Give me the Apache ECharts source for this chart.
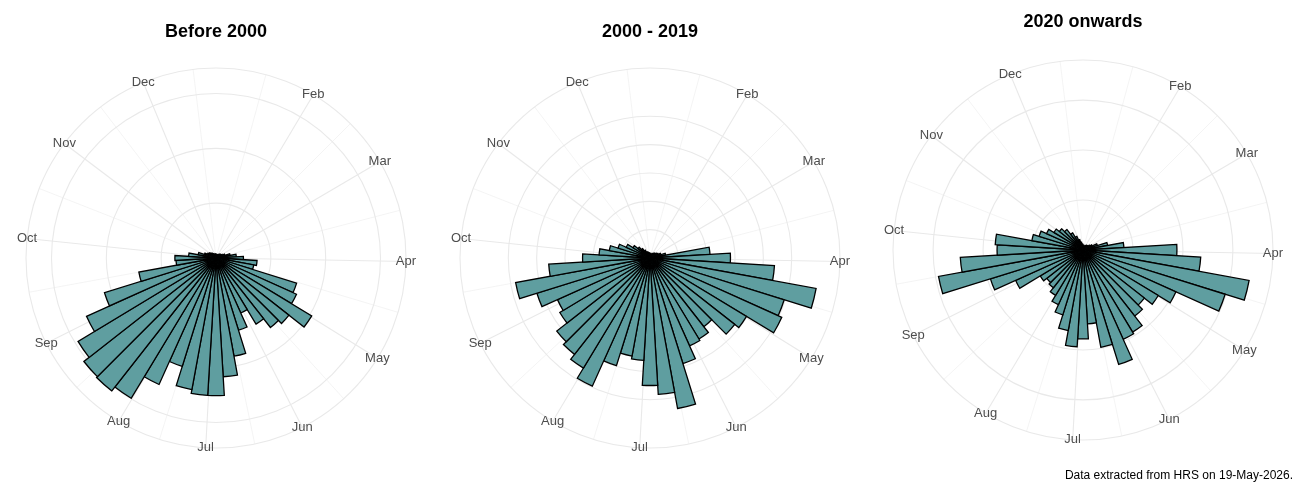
<!DOCTYPE html>
<html>
<head>
<meta charset="utf-8">
<script src="https://cdn.jsdelivr.net/npm/echarts@6/dist/echarts.min.js"></script>
<style>
  html, body { margin: 0; padding: 0; background: #fff; }
  #chart { width: 1300px; height: 500px; }
</style>
</head>
<body>
<div id="chart"></div>
<script>
// week of year, one bar each
var weeks = [1, 2, 3, 4, 5, 6, 7, 8, 9, 10, 11, 12, 13, 14, 15, 16, 17, 18, 19, 20, 21, 22, 23, 24, 25, 26,
  27, 28, 29, 30, 31, 32, 33, 34, 35, 36, 37, 38, 39, 40, 41, 42, 43, 44, 45, 46, 47, 48, 49, 50, 51, 52];

// month breaks on the week scale (Jan has no label in the source)
var months = ["Feb", "Mar", "Apr", "May", "Jun", "Jul", "Aug", "Sep", "Oct", "Nov", "Dec"];
var monthPos = [5.45, 9.6, 14.15, 18.6, 23.1, 27.45, 31.45, 36.15, 40.85, 45.35, 49.75];
var minorPos = [3.2, 7.5, 11.9, 16.4, 20.9, 25.3, 29.5, 33.8, 38.5, 43.1, 47.6, 52.0];

var before2000 = [0.7, 0.6, 0.6, 0.6, 0.7, 0.7, 0.9, 0.9, 1.1, 1.3, 1.7, 2.6,
  3.7, 5.0, 7.5, 7.0, 15.4, 16.1, 20.4, 16.9, 16.1, 14.1, 11.0, 13.8,
  18.2, 21.7, 25.1, 25.1, 24.4, 20.7, 25.3, 29.9, 30.8, 30.6, 29.4, 25.9,
  21.3, 14.3, 7.3, 7.5, 5.0, 3.3, 2.2, 1.7, 1.5, 1.3, 1.1, 0.9,
  0.9, 0.7, 0.7, 0.7];
var from2000 = [0.8, 0.7, 0.7, 0.7, 0.9, 0.9, 1.1, 1.2, 1.4, 1.6, 2.0, 2.8,
  10.6, 14.2, 22.0, 29.8, 24.8, 25.5, 19.9, 19.0, 15.4, 16.7, 17.0, 19.5,
  27.0, 24.1, 22.5, 18.1, 17.6, 19.9, 24.8, 22.7, 21.6, 20.9, 18.6, 17.9,
  20.9, 24.1, 17.9, 11.9, 9.0, 7.3, 5.9, 4.6, 3.5, 2.7, 2.1, 1.6,
  1.2, 1.1, 0.9, 0.9];
var from2020 = [0.5, 0.4, 0.4, 0.4, 0.5, 0.5, 0.6, 0.6, 0.8, 1.0, 1.5, 2.5,
  4.1, 9.4, 11.8, 16.9, 14.9, 10.2, 8.8, 7.8, 8.4, 9.6, 9.8, 12.0,
  9.9, 7.4, 8.9, 9.7, 8.2, 6.8, 6.0, 5.3, 4.8, 4.6, 5.0, 7.4,
  9.7, 14.7, 12.3, 8.6, 8.8, 5.2, 4.6, 4.0, 3.4, 3.0, 2.6, 2.0,
  1.5, 1.1, 0.8, 0.6];

// radial grid breaks
var rings1 = [10, 20, 30];
var rings2 = [5, 10, 15, 20, 25];
var rings3 = [5, 10, 15];

var titles = ["Before 2000", "2000 - 2019", "2020 onwards"];
var caption = "Data extracted from HRS on 19-May-2026.";

var FONT = '"Liberation Sans", Arial, sans-serif';
var FILL = "#5F9EA0";
var GRID = "#E9E9E9";
var GRID_MINOR = "#F3F3F3";

var panels = [
  { values: before2000, rings: rings1, center: [216, 258], titleY: 32 },
  { values: from2000, rings: rings2, center: [650, 258], titleY: 32 },
  { values: from2020, rings: rings3, center: [1083, 250], titleY: 22 }
];

function dir(api, cs, w) {
  var p = api.coord([1, w]);
  var dx = p[0] - cs.cx, dy = p[1] - cs.cy;
  var len = Math.sqrt(dx * dx + dy * dy);
  return [dx / len, dy / len];
}

function ringItem(params, api) {
  var cs = params.coordSys;
  var p = api.coord([api.value(1), 1]);
  var r = Math.sqrt(Math.pow(p[0] - cs.cx, 2) + Math.pow(p[1] - cs.cy, 2));
  return {
    type: "circle",
    shape: { cx: cs.cx, cy: cs.cy, r: r },
    style: { fill: "none", stroke: GRID, lineWidth: 1.1 }
  };
}

function spokeItem(params, api) {
  var cs = params.coordSys;
  var d = dir(api, cs, api.value(0));
  var major = api.value(2) === 1;
  return {
    type: "line",
    shape: { x1: cs.cx, y1: cs.cy, x2: cs.cx + d[0] * cs.r, y2: cs.cy + d[1] * cs.r },
    style: { stroke: major ? GRID : GRID_MINOR, lineWidth: major ? 1.1 : 0.9 }
  };
}

function barItem(params, api) {
  var cs = params.coordSys;
  var w = api.value(0);
  var p0 = api.coord([1, w - 0.5]);
  var p1 = api.coord([1, w + 0.5]);
  var a0 = Math.atan2(p0[1] - cs.cy, p0[0] - cs.cx);
  var a1 = Math.atan2(p1[1] - cs.cy, p1[0] - cs.cx);
  if (a1 < a0) a1 += Math.PI * 2;
  var pe = api.coord([api.value(1), w]);
  var r = Math.sqrt(Math.pow(pe[0] - cs.cx, 2) + Math.pow(pe[1] - cs.cy, 2));
  return {
    type: "sector",
    shape: { cx: cs.cx, cy: cs.cy, r0: 0, r: r, startAngle: a0, endAngle: a1, clockwise: true },
    style: { fill: FILL, stroke: "#000", lineWidth: 1.3 }
  };
}

function labelItem(params, api) {
  var cs = params.coordSys;
  var d = dir(api, cs, api.value(0));
  return {
    type: "text",
    x: cs.cx + d[0] * cs.r,
    y: cs.cy + d[1] * cs.r,
    style: {
      text: months[params.dataIndex],
      fill: "#4D4D4D",
      font: "13px " + FONT,
      align: "center",
      verticalAlign: "middle"
    }
  };
}

var option = {
  backgroundColor: "#fff",
  animation: false,
  textStyle: { fontFamily: FONT },
  title: [],
  polar: [],
  angleAxis: [],
  radiusAxis: [],
  series: []
};

panels.forEach(function (pn, i) {
  var rMax = Math.max.apply(null, pn.values) * 1.125;

  option.title.push({
    text: titles[i],
    left: pn.center[0],
    top: pn.titleY,
    padding: 0,
    textAlign: "center",
    textVerticalAlign: "middle",
    textStyle: { fontFamily: FONT, fontSize: 18, fontWeight: "bold", color: "#000" }
  });
  option.polar.push({ center: pn.center, radius: 190 });
  option.angleAxis.push({
    polarIndex: i,
    type: "value",
    min: 1,
    max: 53,
    startAngle: 90,
    clockwise: true,
    axisLine: { show: false },
    axisTick: { show: false },
    axisLabel: { show: false },
    splitLine: { show: false }
  });
  option.radiusAxis.push({
    polarIndex: i,
    type: "value",
    min: 0,
    max: rMax,
    axisLine: { show: false },
    axisTick: { show: false },
    axisLabel: { show: false },
    splitLine: { show: false }
  });

  var spokes = monthPos.map(function (p) { return [p, 0, 1]; })
    .concat(minorPos.map(function (p) { return [p, 0, 0]; }));

  option.series.push({
    type: "custom", coordinateSystem: "polar", polarIndex: i, silent: true, z: 1,
    encode: { angle: 0, radius: 1 },
    data: spokes,
    renderItem: spokeItem
  });
  option.series.push({
    type: "custom", coordinateSystem: "polar", polarIndex: i, silent: true, z: 1,
    encode: { angle: 0, radius: 1 },
    data: pn.rings.concat([rMax]).map(function (v) { return [1, v]; }),
    renderItem: ringItem
  });
  option.series.push({
    type: "custom", coordinateSystem: "polar", polarIndex: i, z: 3,
    encode: { angle: 0, radius: 1 },
    data: weeks.map(function (w, k) { return [w, pn.values[k]]; }),
    renderItem: barItem
  });
  option.series.push({
    type: "custom", coordinateSystem: "polar", polarIndex: i, silent: true, z: 4,
    encode: { angle: 0, radius: 1 },
    data: monthPos.map(function (p) { return [p, 0]; }),
    renderItem: labelItem
  });
});

option.title.push({
  text: caption,
  right: 7,
  top: 476,
  padding: 0,
  textVerticalAlign: "middle",
  textStyle: { fontFamily: FONT, fontSize: 12, fontWeight: "normal", color: "#000" }
});

var chart = echarts.init(document.getElementById("chart"), null, { renderer: "canvas" });
chart.setOption(option);
window.addEventListener("resize", function () { chart.resize(); });
</script>
</body>
</html>
